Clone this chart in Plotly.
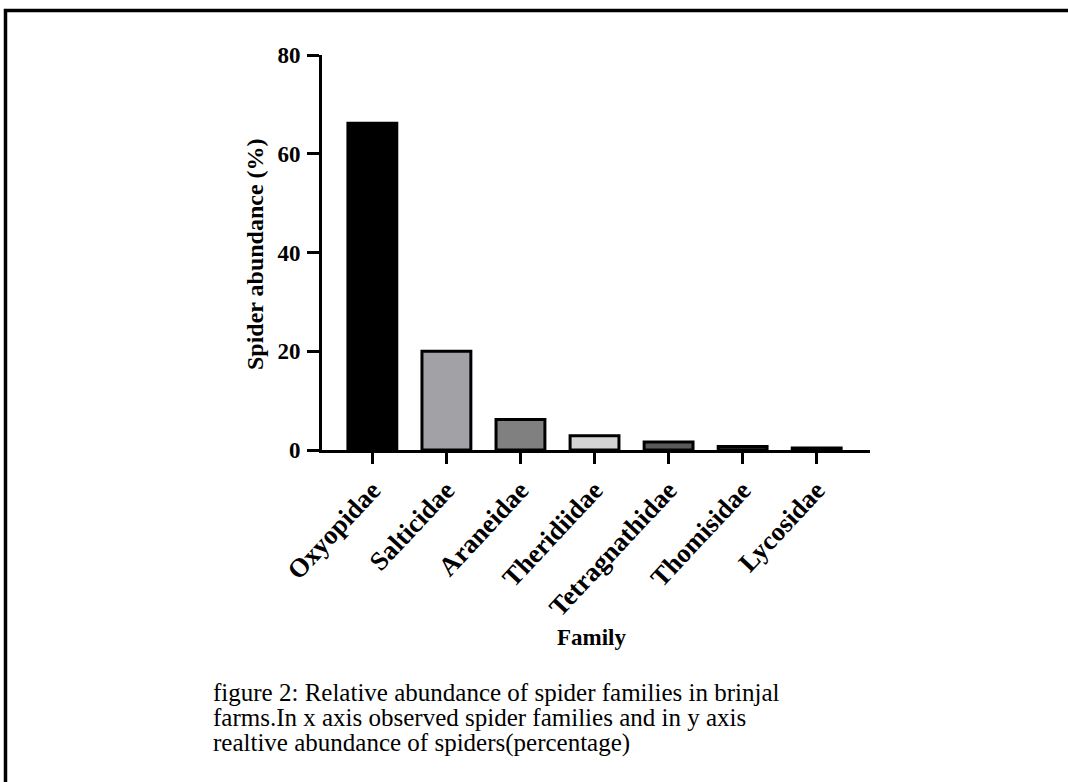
import plotly.graph_objects as go

# Relative abundance of spider families (%)
families = ["Oxyopidae", "Salticidae", "Araneidae", "Theridiidae",
            "Tetragnathidae", "Thomisidae", "Lycosidae"]
abundance = [66.2, 20.0, 6.2, 2.9, 1.6, 0.7, 0.4]
fill_colors = ["#000000", "#a2a2a6", "#808080", "#d4d4d4",
               "#5a5a5a", "#404040", "#bdbdbd"]
y_ticks = [0, 20, 40, 60, 80]

caption_lines = [
    "figure 2: Relative abundance of spider families in brinjal",
    "farms.In x axis observed spider families and in y axis",
    "realtive abundance of spiders(percentage)",
]

W, H = 1068, 782
L, R, T, B = 322, 198, 55, 332
pw, ph = W - L - R, H - T - B


def px(x):
    return (x - L) / pw


def py(y):
    return (H - B - y) / ph


serif = "Liberation Serif, Times New Roman, serif"

fig = go.Figure(go.Bar(
    x=list(range(len(families))),
    y=abundance,
    width=0.66,
    marker=dict(color=fill_colors, line=dict(color="#000000", width=3)),
))

annotations = [
    dict(text="Spider abundance (%)", xref="paper", yref="paper",
         x=px(255), y=py(254), textangle=-90, showarrow=False,
         xanchor="center", yanchor="middle",
         font=dict(size=24, family=serif, weight="bold")),
    dict(text="Family", xref="paper", yref="paper",
         x=px(591), y=py(637), showarrow=False,
         xanchor="center", yanchor="middle",
         font=dict(size=23, family=serif, weight="bold")),
]
# Caption, one line per annotation for tight line spacing
for i, line in enumerate(caption_lines):
    annotations.append(dict(
        text=line, xref="paper", yref="paper",
        x=px(211), y=py(692 + 25.5 * i), showarrow=False, align="left",
        xanchor="left", yanchor="middle",
        font=dict(size=25, family=serif, weight="normal"),
    ))

fig.update_layout(
    width=W, height=H,
    margin=dict(l=L, r=R, t=T, b=B),
    paper_bgcolor="white", plot_bgcolor="white",
    showlegend=False,
    font=dict(family=serif, color="black"),
    xaxis=dict(
        range=[-0.68, 6.72],
        tickmode="array",
        tickvals=list(range(len(families))),
        ticktext=families,
        tickangle=-47,
        tickfont=dict(size=26.5, family=serif, weight="bold"),
        ticks="outside", ticklen=11, tickwidth=3, tickcolor="black",
        showline=True, linecolor="black", linewidth=3,
        showgrid=False, zeroline=False,
    ),
    yaxis=dict(
        range=[0, 80],
        tickmode="array",
        tickvals=y_ticks,
        tickfont=dict(size=23, family=serif, weight="bold"),
        ticks="outside", ticklen=12, tickwidth=3, tickcolor="black",
        showline=True, linecolor="black", linewidth=3,
        showgrid=False, zeroline=False,
        ticklabelstandoff=2,
    ),
    shapes=[dict(
        type="rect", xref="paper", yref="paper",
        x0=px(5.5), x1=px(W + 40), y0=py(H + 40), y1=py(10.5),
        line=dict(color="black", width=3.5), fillcolor="rgba(0,0,0,0)",
        layer="below",
    )],
    annotations=annotations,
)

fig.write_html("out.html")
